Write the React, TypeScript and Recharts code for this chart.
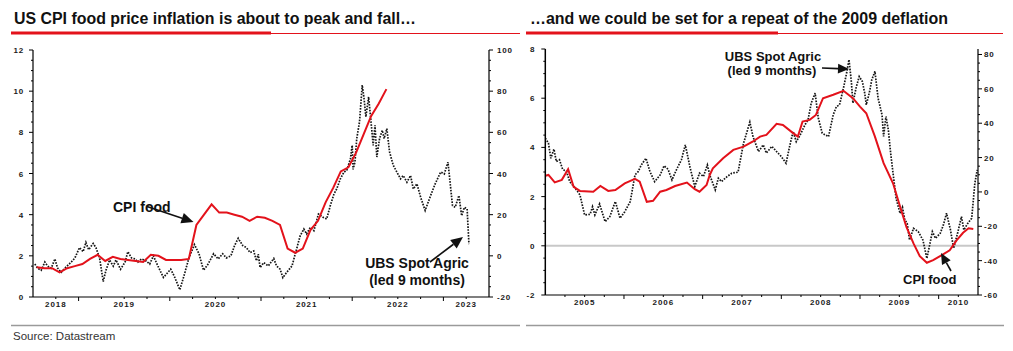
import React from 'react'
import { ComposedChart, Line, XAxis, YAxis, ReferenceLine } from 'recharts'

// ---------- left panel: 2018-2023 ----------
// CPI food y/y %, monthly from Jul 2018 to May 2022 (left axis)
const cpiRecentStart = 2018.5
const cpiRecentValues = [
  1.45, 1.4, 1.4, 1.2, 1.4, 1.5,
  1.6, 1.85, 2.05, 1.75, 1.95, 1.85, 1.8, 1.75, 1.7, 2.05, 2.0, 1.8,
  1.8, 1.8, 1.85, 3.5, 4.0, 4.5, 4.1, 4.1, 4.0, 3.9, 3.7, 3.9,
  3.85, 3.7, 3.5, 2.35, 2.15, 2.35, 3.25, 3.7, 4.6, 5.3, 6.1, 6.3,
  7.0, 7.9, 8.8, 9.4, 10.1,
]

// UBS Spot Agric y/y %, led 9 months (right axis)
const agricRecentYears = [
  2018.52, 2018.55, 2018.59, 2018.63, 2018.66, 2018.7, 2018.74, 2018.77, 2018.81, 2018.86,
  2018.92, 2018.96, 2019.01, 2019.05, 2019.08, 2019.11, 2019.16, 2019.19, 2019.23, 2019.27,
  2019.3, 2019.34, 2019.38, 2019.41, 2019.46, 2019.51, 2019.54, 2019.58, 2019.62, 2019.65,
  2019.69, 2019.74, 2019.78, 2019.82, 2019.87, 2019.93, 2019.96, 2020.01, 2020.05, 2020.11,
  2020.16, 2020.21, 2020.27, 2020.32, 2020.37, 2020.42, 2020.48, 2020.53, 2020.58, 2020.62,
  2020.67, 2020.71, 2020.75, 2020.8, 2020.84, 2020.88, 2020.92, 2020.95, 2020.97, 2020.99,
  2021.03, 2021.08, 2021.14, 2021.17, 2021.21, 2021.24, 2021.28, 2021.34, 2021.37, 2021.43,
  2021.47, 2021.5, 2021.54, 2021.58, 2021.63, 2021.68, 2021.72, 2021.76, 2021.8, 2021.83,
  2021.87, 2021.91, 2021.94, 2021.98, 2022.0, 2022.01, 2022.03, 2022.05, 2022.08, 2022.11,
  2022.13, 2022.15, 2022.18, 2022.21, 2022.23, 2022.25, 2022.27, 2022.3, 2022.33, 2022.35,
  2022.38, 2022.41, 2022.45, 2022.48, 2022.53, 2022.56, 2022.6, 2022.64, 2022.67, 2022.71,
  2022.75, 2022.8, 2022.86, 2022.91, 2022.97, 2023.01, 2023.05, 2023.1, 2023.13, 2023.17,
  2023.2, 2023.23, 2023.26, 2023.28,
]
const agricRecentValues = [
  -4, -6, -7, -3, -5, -6, -1.5, -6, -8, -5.5,
  -3, -1, 4, 2, 6.5, 3, 6, 4, -1, -12.5,
  -7, -2, -5, -2, -6.5, -3, 2, -1, -1.5, -3,
  -1.5, -2.5, -4, 0, -5, -10.5, -9, -6.5, -10, -16.5,
  -9, -1, 5.5, 1, -7, -4, 1, -1.5, 1, -1,
  0, 5, 8.5, 5, 4, 1.6, 2.4, -2.4, 0.8, -5.7,
  -3.3, -4.9, -1.3, -4.9, -6.5, -10.6, -8.1, -4.9, 0, 9.8,
  13, 10.6, 13.8, 12.2, 20.3, 18.7, 17.9, 24.4, 30, 32.5,
  37.4, 40.7, 41.5, 47, 53.7, 42, 45.5, 57, 65, 83,
  76.4, 67.5, 77.2, 63.4, 53.7, 63.4, 48, 57, 61, 57,
  61.8, 50.4, 44, 41.5, 37.4, 39, 35.8, 39, 32.5, 35,
  28.5, 22, 29.3, 35, 40.7, 39.8, 45.5, 24.4, 23.6, 29.3,
  19.5, 23.6, 22.8, 5.7,
]

const recentDomain: [number, number] = [2018.5, 2023.5]
const recentYearLabels = ['2018', '2019', '2020', '2021', '2022', '2023']
const recentLeftTicks = [0, 2, 4, 6, 8, 10, 12]
const recentRightTicks = [-20, 0, 20, 40, 60, 80, 100]

// ---------- right panel: 2005-2010 ----------
const cpiPastYears = [
  2005.0, 2005.04, 2005.12, 2005.21, 2005.29, 2005.36, 2005.44, 2005.61, 2005.7, 2005.8,
  2005.89, 2006.01, 2006.14, 2006.2, 2006.29, 2006.37, 2006.46, 2006.54, 2006.65, 2006.8,
  2006.9, 2006.96, 2007.05, 2007.09, 2007.13, 2007.26, 2007.39, 2007.52, 2007.64, 2007.73,
  2007.81, 2007.94, 2008.02, 2008.15, 2008.21, 2008.27, 2008.36, 2008.44, 2008.53, 2008.66,
  2008.79, 2008.91, 2009.0, 2009.08, 2009.19, 2009.3, 2009.42, 2009.51, 2009.59, 2009.68,
  2009.76, 2009.85, 2009.93, 2010.04, 2010.14, 2010.23, 2010.31, 2010.38, 2010.44,
]
const cpiPastValues = [
  2.85, 2.88, 2.58, 2.68, 3.11, 2.4, 2.23, 2.2, 2.43, 2.23,
  2.27, 2.54, 2.72, 2.61, 1.79, 1.83, 2.2, 2.27, 2.43, 2.57,
  2.3, 2.2, 2.47, 2.88, 3.15, 3.56, 3.9, 4.03, 4.24, 4.44,
  4.51, 4.96, 4.91, 4.58, 4.44, 5.05, 5.12, 5.32, 6.0, 6.14,
  6.3, 6.0, 5.66, 5.39, 4.44, 3.36, 2.54, 1.59, 0.77, 0.1,
  -0.42, -0.69, -0.58, -0.38, -0.18, 0.23, 0.53, 0.71, 0.68,
]

const agricPastYears = [
  2005.0, 2005.04, 2005.07, 2005.11, 2005.14, 2005.18, 2005.22, 2005.27, 2005.31, 2005.38,
  2005.44, 2005.5, 2005.57, 2005.6, 2005.63, 2005.69, 2005.76, 2005.82, 2005.89, 2005.95,
  2006.01, 2006.08, 2006.14, 2006.18, 2006.22, 2006.28, 2006.33, 2006.39, 2006.46, 2006.51,
  2006.56, 2006.61, 2006.67, 2006.73, 2006.78, 2006.84, 2006.9, 2006.96, 2007.01, 2007.06,
  2007.09, 2007.16, 2007.2, 2007.24, 2007.31, 2007.37, 2007.45, 2007.52, 2007.6, 2007.64,
  2007.71, 2007.77, 2007.81, 2007.88, 2007.94, 2008.0, 2008.06, 2008.11, 2008.15, 2008.19,
  2008.24, 2008.3, 2008.34, 2008.38, 2008.43, 2008.47, 2008.52, 2008.6, 2008.66, 2008.7,
  2008.74, 2008.79, 2008.83, 2008.86, 2008.89, 2008.91, 2008.95, 2008.99, 2009.03, 2009.06,
  2009.08, 2009.12, 2009.15, 2009.19, 2009.23, 2009.28, 2009.3, 2009.33, 2009.36, 2009.39,
  2009.42, 2009.46, 2009.51, 2009.54, 2009.57, 2009.6, 2009.63, 2009.68, 2009.74, 2009.8,
  2009.85, 2009.89, 2009.92, 2009.96, 2010.02, 2010.06, 2010.1, 2010.15, 2010.19, 2010.24,
  2010.29, 2010.32, 2010.37, 2010.42, 2010.46, 2010.49,
]
const agricPastValues = [
  31.3, 28.4, 19.6, 24.9, 17.7, 18.7, 13.2, 11.8, 6.0, 2.2,
  -1.7, -13.4, -13, -8.6, -13.4, -7, -17.3, -14.4, -5.6, -15.3,
  -11.5, -5.6, 9.9, 11.8, 15.7, 19.6, 11.8, 6, 9.9, 15.2,
  13.2, 7, 13.2, 18.7, 27.4, 14.2, 3.1, 10.9, 9, 15.7,
  9.9, 1.2, 8, 6, 8.9, 10.9, 11.5, 28.4, 40.6, 32.2,
  23.5, 27.4, 22.6, 26.5, 23.5, 20.6, 16.7, 27.4, 35.2, 29.3,
  33.2, 39, 42, 51.7, 57.5, 43, 34.2, 32.2, 44.9, 49.7,
  50.7, 60.5, 69.2, 77, 64.3, 51.7, 60.5, 67.2, 64.3, 57.5,
  50.7, 58, 65.3, 70.2, 54.6, 44.9, 32.3, 43.9, 36.2, 22.5,
  10.9, -4, -12.5, -9, -16.3, -18.3, -28, -21.2, -23.1, -28,
  -38.7, -29.9, -23.1, -27, -24.1, -19.2, -12.4, -22.1, -32.8, -24.1,
  -14.4, -22.1, -18.3, -15.3, 5.1, 12.8,
]

const pastDomain: [number, number] = [2005, 2010.5]
const pastYearLabels = ['2005', '2006', '2007', '2008', '2009', '2010']
const pastLeftTicks = [-2, 0, 2, 4, 6, 8]
const pastRightTicks = [-60, -40, -20, 0, 20, 40, 60, 80]

const RED = '#e3121b'
const TICK_FONT = "'Liberation Sans', Arial, sans-serif"

const cpiRecent = cpiRecentValues.map((v, i) => ({ x: cpiRecentStart + i / 12 + 1 / 24, y: v }))
const agricRecent = agricRecentYears.map((x, i) => ({ x, y: agricRecentValues[i] }))
const cpiPast = cpiPastYears.map((x, i) => ({ x, y: cpiPastValues[i] }))
const agricPast = agricPastYears.map((x, i) => ({ x, y: agricPastValues[i] }))

// minor ticks between majors
function withMinors(majors: number[], parts: number) {
  const step = (majors[1] - majors[0]) / parts
  const out: number[] = []
  for (let i = 0; i < majors.length - 1; i++) {
    for (let k = 0; k < parts; k++) out.push(majors[i] + k * step)
  }
  out.push(majors[majors.length - 1])
  return out
}

function quarterTicks(domain: [number, number]) {
  const out: number[] = []
  for (let q = domain[0] + 0.25; q < domain[1] - 0.01; q += 0.25) out.push(Math.round(q * 100) / 100)
  return out
}

// each year label sits in the middle of the visible part of its year
function yearLabelPositions(labels: string[], domain: [number, number]) {
  return labels.map((l) => {
    const y = Number(l)
    return { at: (Math.max(y, domain[0]) + Math.min(y + 1, domain[1])) / 2, text: l }
  })
}

const near = (a: number, b: number) => Math.abs(a - b) < 1e-6

function makeXTick(labels: { at: number; text: string }[]) {
  return (p: any) => {
    const v = p.payload.value
    const major = near(v, Math.round(v))
    const lab = labels.find((l) => near(l.at, v))
    return (
      <g>
        <line x1={p.x} x2={p.x} y1={p.y} y2={p.y + (major ? 4 : 2)} stroke="#000" strokeWidth={1} />
        {lab && (
          <text x={p.x} y={p.y + 10} textAnchor="middle" fontSize={8} fontWeight="bold"
            fontFamily={TICK_FONT} letterSpacing={0.9} fill="#1a1a1a">
            {lab.text}
          </text>
        )}
      </g>
    )
  }
}

function makeYTick(majors: number[], side: 'left' | 'right', gap: number) {
  return (p: any) => {
    const v = p.payload.value
    const major = majors.some((m) => near(m, v))
    const dir = side === 'left' ? -1 : 1
    return (
      <g>
        <line x1={p.x} x2={p.x + dir * (major ? 4 : 2)} y1={p.y} y2={p.y} stroke="#000" strokeWidth={1} />
        {major && (
          <text x={p.x + dir * gap} y={p.y + 3} textAnchor={side === 'left' ? 'end' : 'start'}
            fontSize={8} fontWeight="bold" fontFamily={TICK_FONT} letterSpacing={0.8} fill="#1a1a1a">
            {v}
          </text>
        )}
      </g>
    )
  }
}

function Arrow({ x1, y1, x2, y2, head = 11 }: { x1: number; y1: number; x2: number; y2: number; head?: number }) {
  const a = Math.atan2(y2 - y1, x2 - x1)
  const bx = x2 - head * Math.cos(a)
  const by = y2 - head * Math.sin(a)
  const w = head * 0.45
  const px = -Math.sin(a) * w
  const py = Math.cos(a) * w
  return (
    <g>
      <line x1={x1} y1={y1} x2={bx} y2={by} stroke="#111" strokeWidth={1.6} />
      <polygon points={`${x2},${y2} ${bx + px},${by + py} ${bx - px},${by - py}`} fill="#111" />
    </g>
  )
}

function RecentPanel() {
  const labels = yearLabelPositions(recentYearLabels, recentDomain)
  return (
    <ComposedChart width={520} height={317} margin={{ top: 50, right: 0, bottom: 0, left: 0 }}>
      <XAxis type="number" dataKey="x" domain={recentDomain} allowDataOverflow ticks={quarterTicks(recentDomain)}
        interval={0} tickSize={0} tickMargin={0} tickLine={false} height={20}
        axisLine={{ stroke: '#000', strokeWidth: 1.2 }} tick={makeXTick(labels)} />
      <YAxis yAxisId="l" domain={[0, 12]} allowDataOverflow ticks={withMinors(recentLeftTicks, 4)} interval={0}
        width={33} tickSize={0} tickMargin={0} tickLine={false} axisLine={{ stroke: '#000', strokeWidth: 1.2 }}
        tick={makeYTick(recentLeftTicks, 'left', 9)} />
      <YAxis yAxisId="r" orientation="right" domain={[-20, 100]} allowDataOverflow ticks={withMinors(recentRightTicks, 4)}
        interval={0} width={31} tickSize={0} tickMargin={0} tickLine={false}
        axisLine={{ stroke: '#000', strokeWidth: 1.2 }} tick={makeYTick(recentRightTicks, 'right', 8)} />
      <Line yAxisId="r" data={agricRecent} dataKey="y" type="linear" stroke="#151515" strokeWidth={1.7}
        strokeDasharray="1.6 1.3" dot={false} isAnimationActive={false} />
      <Line yAxisId="l" data={cpiRecent} dataKey="y" type="linear" stroke={RED} strokeWidth={2}
        dot={false} isAnimationActive={false} />
    </ComposedChart>
  )
}

function PastPanel() {
  const labels = yearLabelPositions(pastYearLabels, pastDomain)
  return (
    <ComposedChart width={513} height={315} margin={{ top: 49, right: 0, bottom: 0, left: 0 }}>
      <XAxis type="number" dataKey="x" domain={pastDomain} allowDataOverflow ticks={quarterTicks(pastDomain)}
        interval={0} tickSize={0} tickMargin={0} tickLine={false} height={20}
        axisLine={{ stroke: '#000', strokeWidth: 1.2 }} tick={makeXTick(labels)} />
      <YAxis yAxisId="l" domain={[-2, 8]} allowDataOverflow ticks={withMinors(pastLeftTicks, 4)} interval={0}
        width={45.3} tickSize={0} tickMargin={0} tickLine={false} axisLine={{ stroke: '#000', strokeWidth: 1.5 }}
        tick={makeYTick(pastLeftTicks, 'left', 10)} />
      <YAxis yAxisId="r" orientation="right" domain={[-60, 83.2]} allowDataOverflow ticks={withMinors(pastRightTicks, 4)}
        interval={0} width={35} tickSize={0} tickMargin={0} tickLine={false}
        axisLine={{ stroke: '#000', strokeWidth: 1.2 }} tick={makeYTick(pastRightTicks, 'right', 6)} />
      <ReferenceLine yAxisId="l" y={0} stroke="#c8c8c8" strokeWidth={2} />
      <Line yAxisId="r" data={agricPast} dataKey="y" type="linear" stroke="#151515" strokeWidth={1.7}
        strokeDasharray="1.6 1.3" dot={false} isAnimationActive={false} />
      <Line yAxisId="l" data={cpiPast} dataKey="y" type="linear" stroke={RED} strokeWidth={2}
        dot={false} isAnimationActive={false} />
    </ComposedChart>
  )
}

export default function App() {
  const ann = { fontFamily: TICK_FONT, fontWeight: 'bold' as const, fill: '#111' }
  return (
    <div style={{ position: 'absolute', left: 0, top: 0, width: 1013, height: 351, background: '#fff', overflow: 'hidden' }}>
      <div style={{ position: 'absolute', left: 0, top: 0 }}>
        <RecentPanel />
      </div>
      <div style={{ position: 'absolute', left: 500, top: 0 }}>
        <PastPanel />
      </div>
      <svg width={1013} height={351} style={{ position: 'absolute', left: 0, top: 0, pointerEvents: 'none' }}>
        <text x={14} y={24} fontFamily={TICK_FONT} fontWeight="bold" fontSize={16} fill="#111"
          textLength={402} lengthAdjust="spacingAndGlyphs">
          US CPI food price inflation is about to peak and fall…
        </text>
        <text x={530} y={24} fontFamily={TICK_FONT} fontWeight="bold" fontSize={16} fill="#111"
          textLength={418} lengthAdjust="spacingAndGlyphs">
          …and we could be set for a repeat of the 2009 deflation
        </text>
        <line x1={11} x2={271} y1={33} y2={33} stroke={RED} strokeWidth={3} />
        <line x1={271} x2={520} y1={33.5} y2={33.5} stroke={RED} strokeWidth={1} />
        <line x1={526} x2={778} y1={33} y2={33} stroke={RED} strokeWidth={3} />
        <line x1={778} x2={1003} y1={33.5} y2={33.5} stroke={RED} strokeWidth={1} />
        <line x1={11} x2={520} y1={325.5} y2={325.5} stroke="#9a9a9a" strokeWidth={1.5} />
        <line x1={526} x2={1004} y1={325.5} y2={325.5} stroke="#9a9a9a" strokeWidth={1.5} />
        <text x={13} y={340} fontFamily={TICK_FONT} fontSize={11.5} fill="#333">Source: Datastream</text>

        <text x={113} y={212} fontSize={14} {...ann}>CPI food</text>
        <Arrow x1={147} y1={206.5} x2={193.5} y2={222} head={12} />
        <text x={417} y={268} fontSize={14} textAnchor="middle" {...ann}>UBS Spot Agric</text>
        <text x={417} y={285} fontSize={14} textAnchor="middle" {...ann}>(led 9 months)</text>
        <Arrow x1={430} y1={262} x2={463} y2={237} head={12} />

        <text x={773} y={61} fontSize={13} textAnchor="middle" {...ann}>UBS Spot Agric</text>
        <text x={772} y={75} fontSize={13} textAnchor="middle" {...ann}>(led 9 months)</text>
        <Arrow x1={822} y1={68} x2={849} y2={69} head={11} />
        <text x={903} y={284} fontSize={13} {...ann}>CPI food</text>
        <Arrow x1={951} y1={271} x2={941} y2={253} head={11} />
      </svg>
    </div>
  )
}
